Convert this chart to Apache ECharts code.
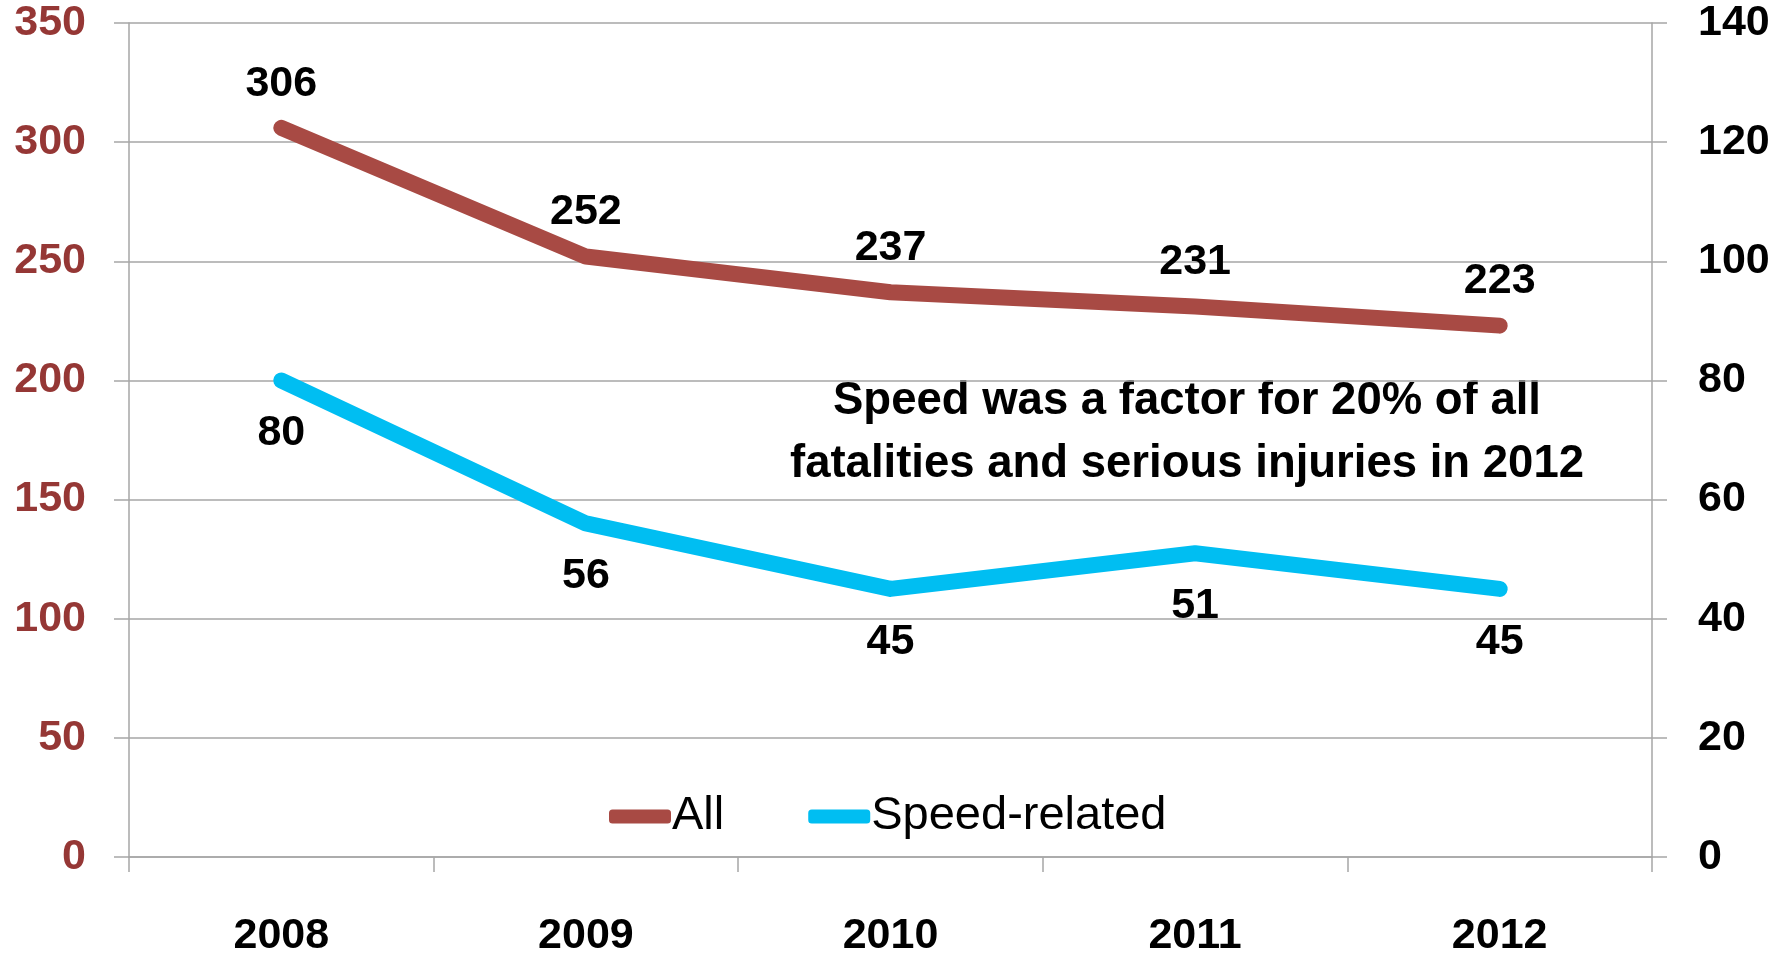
<!DOCTYPE html>
<html>
<head>
<meta charset="utf-8">
<title>Speed-related fatalities and serious injuries</title>
<script src="https://cdn.jsdelivr.net/npm/echarts@6/dist/echarts.min.js"></script>
<style>
  html, body { margin: 0; padding: 0; background: #fff; }
  #chart { width: 1792px; height: 958px; }
</style>
</head>
<body>
<div id="chart"></div>
<script>
// data
const years = ["2008", "2009", "2010", "2011", "2012"];
const allCrashes = [306, 252, 237, 231, 223];
const speedRelated = [80, 56, 45, 51, 45];
const leftTicks = [0, 50, 100, 150, 200, 250, 300, 350];
const rightTicks = [0, 20, 40, 60, 80, 100, 120, 140];
const noteLines = ["Speed was a factor for 20% of all", "fatalities and serious injuries in 2012"];

const FONT = "'Liberation Sans', Arial, sans-serif";
const gridGray = "#A6A6A6";

const chart = echarts.init(document.getElementById("chart"));

const option = {
  backgroundColor: "#fff",
  animation: false,
  grid: { left: 129, right: 140, top: 23, bottom: 99, containLabel: false },
  legend: {
    data: ["All", "Speed-related"],
    left: 604,
    top: 788,
    icon: "roundRect",
    itemWidth: 62,
    itemHeight: 14,
    itemGap: 84,
    textStyle: { fontFamily: FONT, fontSize: 47, color: "#000", padding: [0, 0, 0, -4] },
  },
  xAxis: {
    type: "category",
    data: years,
    boundaryGap: true,
    axisLine: { show: true, lineStyle: { color: gridGray, width: 1.5 } },
    axisTick: { show: true, length: 15, inside: false, lineStyle: { color: gridGray, width: 1.5 } },
    axisLabel: { margin: 58, fontFamily: FONT, fontSize: 43, fontWeight: "bold", color: "#000" },
  },
  yAxis: [
    {
      type: "value",
      min: leftTicks[0],
      max: leftTicks[leftTicks.length - 1],
      interval: leftTicks[1] - leftTicks[0],
      position: "left",
      axisLine: { show: true, lineStyle: { color: gridGray, width: 1.5 } },
      axisTick: { show: true, length: 15, lineStyle: { color: gridGray, width: 1.5 } },
      splitLine: { show: true, lineStyle: { color: gridGray, width: 1.5 } },
      axisLabel: { margin: 43, fontFamily: FONT, fontSize: 43, fontWeight: "bold", color: "#953735" },
    },
    {
      type: "value",
      min: rightTicks[0],
      max: rightTicks[rightTicks.length - 1],
      interval: rightTicks[1] - rightTicks[0],
      position: "right",
      axisLine: { show: true, lineStyle: { color: gridGray, width: 1.5 } },
      axisTick: { show: true, length: 15, lineStyle: { color: gridGray, width: 1.5 } },
      splitLine: { show: false },
      axisLabel: { margin: 46, fontFamily: FONT, fontSize: 43, fontWeight: "bold", color: "#000" },
    },
  ],
  series: [
    {
      name: "All",
      type: "line",
      yAxisIndex: 0,
      data: allCrashes,
      symbol: "circle",
      symbolSize: 1,
      color: "#A84A44",
      lineStyle: { width: 16, color: "#A84A44", cap: "round", join: "round" },
      label: {
        show: true,
        position: "top",
        distance: 22,
        fontFamily: FONT,
        fontSize: 43,
        fontWeight: "bold",
        color: "#000",
      },
    },
    {
      name: "Speed-related",
      type: "line",
      yAxisIndex: 1,
      data: speedRelated,
      symbol: "circle",
      symbolSize: 1,
      color: "#00BEF2",
      lineStyle: { width: 16, color: "#00BEF2", cap: "round", join: "round" },
      label: {
        show: true,
        position: "bottom",
        distance: 31,
        fontFamily: FONT,
        fontSize: 43,
        fontWeight: "bold",
        color: "#000",
      },
    },
  ],
  graphic: [
    {
      type: "text",
      x: 1187,
      y: 370,
      style: {
        text: noteLines.join("\n"),
        align: "center",
        verticalAlign: "top",
        fontFamily: FONT,
        fontSize: 45.5,
        fontWeight: "bold",
        lineHeight: 63,
        fill: "#000",
      },
    },
  ],
};

chart.setOption(option);
</script>
</body>
</html>
